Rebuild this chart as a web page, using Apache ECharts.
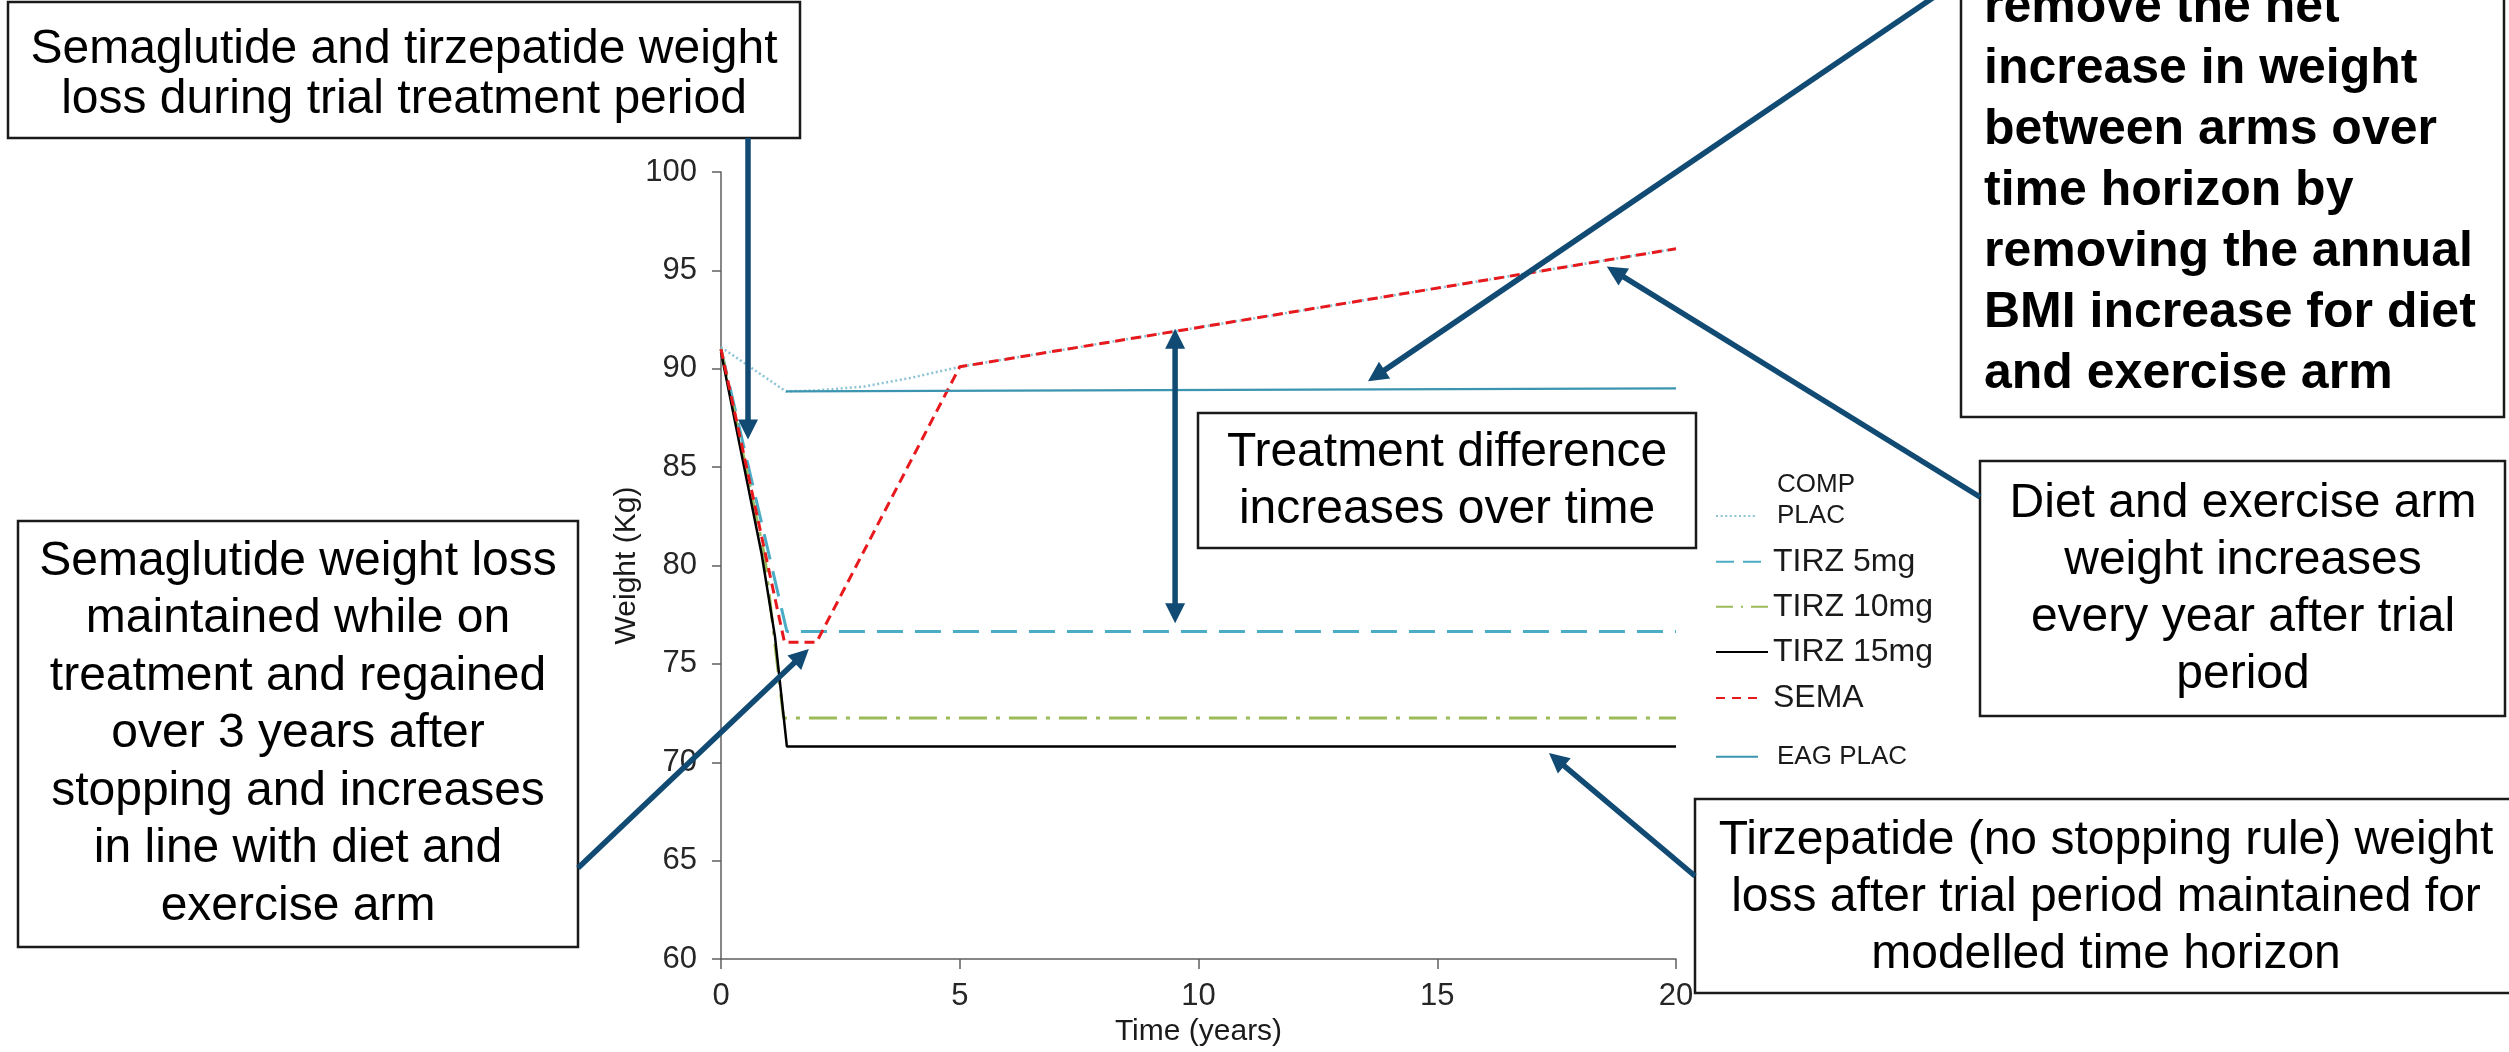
<!DOCTYPE html>
<html><head><meta charset="utf-8">
<script src="https://cdn.jsdelivr.net/npm/echarts@6/dist/echarts.min.js"></script>
<style>html,body{margin:0;padding:0;background:#fff}#c{width:2509px;height:1052px}</style>
</head><body><div id="c"></div>
<script>
// ---- data ----
const seriesNames = ['COMP PLAC', 'TIRZ 5mg', 'TIRZ 10mg', 'TIRZ 15mg', 'SEMA', 'EAG PLAC'];
const compPlacYears  = [0, 1.36, 2, 3, 4, 5, 20];
const compPlacWeight = [91.1, 88.85, 88.9, 89.1, 89.55, 90.1, 96.1];
const tirz5Years  = [0, 1.38, 20];
const tirz5Weight = [91.0, 76.65, 76.65];
const tirz10Years  = [0, 0.92, 1.31, 20];
const tirz10Weight = [91.0, 80.4, 72.25, 72.25];
const tirz15Years  = [0, 0.85, 1.13, 1.38, 20];
const tirz15Weight = [90.85, 80.6, 76.4, 70.8, 70.8];
const semaYears  = [0, 1.33, 2, 5, 20];
const semaWeight = [91.0, 76.1, 76.1, 90.1, 96.1];
const eagPlacYears  = [1.36, 20];
const eagPlacWeight = [88.85, 89.0];
const xTickValues = [0, 5, 10, 15, 20];
const yTickValues = [60, 65, 70, 75, 80, 85, 90, 95, 100];

const FONT = "'Liberation Sans', Arial, Helvetica, sans-serif";
const ARROW = '#114a72';
const pairs = (xs, ys) => xs.map((x, i) => [x, ys[i]]);

const chart = echarts.init(document.getElementById('c'), null, {renderer: 'canvas'});

const styles = [
  {color: '#8cc4d6', width: 2.5, type: [2, 2.6]},
  {color: '#4bacc6', width: 3, type: [26, 12]},
  {color: '#9bbb59', width: 3, type: [28, 9, 4, 9]},
  {color: '#000000', width: 2.5, type: 'solid'},
  {color: '#e8191c', width: 3, type: [10, 6]},
  {color: '#3b95b0', width: 2.2, type: 'solid'}
];
const dataSets = [
  pairs(compPlacYears, compPlacWeight),
  pairs(tirz5Years, tirz5Weight),
  pairs(tirz10Years, tirz10Weight),
  pairs(tirz15Years, tirz15Weight),
  pairs(semaYears, semaWeight),
  pairs(eagPlacYears, eagPlacWeight)
];

const series = seriesNames.map((n, i) => ({
  name: n, type: 'line', data: dataSets[i], symbol: 'none', silent: true, animation: false,
  lineStyle: {color: styles[i].color, width: styles[i].width, type: styles[i].type},
  itemStyle: {color: styles[i].color}, z: 2 + i
}));

// one legend per entry so each sits exactly as in the reference
// (top = top of the item's bounding box, which is the text block)
const legendSpec = [
  {name: 'COMP PLAC', top: 469.5, w: 40, fs: 26, lh: 31, pad: [0, 0, 0, 16], fmt: 'COMP\nPLAC\n ', dash: [2, 2.6]},
  {name: 'TIRZ 5mg', top: 543.7, w: 45, fs: 32, lh: 36, pad: [0, 0, 0, 7], dash: [18, 9]},
  {name: 'TIRZ 10mg', top: 588.7, w: 52, fs: 32, lh: 36, pad: [0, 0, 0, 0], dash: [17, 8, 2, 8]},
  {name: 'TIRZ 15mg', top: 634, w: 52, fs: 32, lh: 36, pad: [0, 0, 0, 0], dash: 'solid'},
  {name: 'SEMA', top: 680, w: 43, fs: 32, lh: 36, pad: [0, 0, 0, 9], dash: [9, 7]},
  {name: 'EAG PLAC', top: 741.2, w: 42, fs: 26, lh: 31, pad: [0, 0, 0, 14], dash: 'solid'}
];
const legends = legendSpec.map(l => ({
  data: [l.name], left: 1715, top: l.top, orient: 'vertical', padding: 0,
  itemWidth: l.w, itemHeight: 10, selectedMode: false,
  itemStyle: {opacity: 0},
  lineStyle: {type: l.dash},
  formatter: l.fmt ? () => l.fmt : '{name}',
  textStyle: {fontSize: l.fs, fontFamily: FONT, color: '#1a1a1a', lineHeight: l.lh, padding: l.pad}
}));

const axisCol = '#5f5f5f';
const option = {
  backgroundColor: '#ffffff',
  animation: false,
  grid: {left: 721, right: 833, top: 172, bottom: 86, containLabel: false},
  legend: legends,
  xAxis: {
    type: 'value', min: xTickValues[0], max: xTickValues[xTickValues.length - 1],
    interval: xTickValues[1] - xTickValues[0],
    name: 'Time (years)', nameLocation: 'middle', nameGap: 50,
    nameTextStyle: {fontSize: 30, fontFamily: FONT, color: '#1a1a1a'},
    axisLine: {show: true, lineStyle: {color: axisCol, width: 1.5}},
    axisTick: {show: true, length: 10, lineStyle: {color: axisCol, width: 1.5}},
    axisLabel: {fontSize: 31, fontFamily: FONT, color: '#262626', margin: 22},
    splitLine: {show: false}
  },
  yAxis: {
    type: 'value', min: yTickValues[0], max: yTickValues[yTickValues.length - 1],
    interval: yTickValues[1] - yTickValues[0],
    name: 'Weight (Kg)', nameLocation: 'middle', nameGap: 64, nameRotate: 90,
    nameTextStyle: {fontSize: 30, fontFamily: FONT, color: '#1a1a1a'},
    axisLine: {show: true, lineStyle: {color: axisCol, width: 1.5}},
    axisTick: {show: true, length: 9, lineStyle: {color: axisCol, width: 1.5}},
    axisLabel: {fontSize: 31, fontFamily: FONT, color: '#262626', margin: 24},
    splitLine: {show: false}
  },
  series: series
};
chart.setOption(option);

// ---- annotations ----
function arrowEls(p1, p2, both) {
  const dx = p2[0] - p1[0], dy = p2[1] - p1[1];
  const len = Math.hypot(dx, dy), ux = dx / len, uy = dy / len, nx = -uy, ny = ux;
  const L = 20, W = 10;
  const head = (tip, sx, sy) => ({
    type: 'polygon', z: 200, silent: true,
    shape: {points: [[tip[0], tip[1]],
      [tip[0] - sx * L + nx * W, tip[1] - sy * L + ny * W],
      [tip[0] - sx * L - nx * W, tip[1] - sy * L - ny * W]]},
    style: {fill: ARROW}
  });
  const s = both ? [p1[0] + ux * L * 0.8, p1[1] + uy * L * 0.8] : p1;
  const e = [p2[0] - ux * L * 0.8, p2[1] - uy * L * 0.8];
  const els = [{type: 'line', z: 199, silent: true,
    shape: {x1: s[0], y1: s[1], x2: e[0], y2: e[1]},
    style: {stroke: ARROW, lineWidth: 5.5}}];
  els.push(head(p2, ux, uy));
  if (both) els.push(head(p1, -ux, -uy));
  return els;
}
const px = v => chart.convertToPixel({gridIndex: 0}, v);

const boxes = [
  {r: [8, 2, 792, 136], text: 'Semaglutide and tirzepatide weight\nloss during trial treatment period', cx: 404, cy: 75, lh: 50},
  {r: [1198, 413, 498, 135], text: 'Treatment difference\nincreases over time', cx: 1447, cy: 481.7, lh: 57},
  {r: [18, 521, 560, 426], text: 'Semaglutide weight loss\nmaintained while on\ntreatment and regained\nover 3 years after\nstopping and increases\nin line with diet and\nexercise arm', cx: 298, cy: 734.2, lh: 57.5},
  {r: [1980, 461, 525, 255], text: 'Diet and exercise arm\nweight increases\nevery year after trial\nperiod', cx: 2243, cy: 589.6, lh: 57},
  {r: [1695, 799, 840, 194], text: 'Tirzepatide (no stopping rule) weight\nloss after trial period maintained for\nmodelled time horizon', cx: 2106, cy: 898, lh: 57}
];
const graphics = [];
boxes.forEach(b => {
  graphics.push({type: 'rect', z: 150, silent: true,
    shape: {x: b.r[0], y: b.r[1], width: b.r[2], height: b.r[3]},
    style: {fill: '#ffffff', stroke: '#1a1a1a', lineWidth: 2.5}});
  graphics.push({type: 'text', z: 151, silent: true,
    style: {text: b.text, x: b.cx, y: b.cy, align: 'center', verticalAlign: 'middle',
      fontSize: 48, fontFamily: FONT, fill: '#000000', lineHeight: b.lh}});
});
// bold box at top right (top edge runs off the picture)
graphics.push({type: 'rect', z: 150, silent: true,
  shape: {x: 1961, y: -60, width: 543, height: 477},
  style: {fill: '#ffffff', stroke: '#1a1a1a', lineWidth: 2.5}});
graphics.push({type: 'text', z: 151, silent: true,
  style: {text: 'remove the net\nincrease in weight\nbetween arms over\ntime horizon by\nremoving the annual\nBMI increase for diet\nand exercise arm',
    x: 1984, y: -22.5, align: 'left', verticalAlign: 'top', fontSize: 50, fontWeight: 'bold',
    fontFamily: FONT, fill: '#000000', lineHeight: 61}});

// arrows: tips in data space, tails at the call-out boxes
graphics.push(...arrowEls([748, 138], px([0.565, 86.4]), false));
graphics.push(...arrowEls([1937, -5], px([13.55, 89.36]), false));
graphics.push(...arrowEls([1980, 497], px([18.55, 95.2]), false));
graphics.push(...arrowEls([1695, 876], px([17.34, 70.47]), false));
graphics.push(...arrowEls([578, 868], px([1.84, 75.76]), false));
graphics.push(...arrowEls(px([9.51, 92.03]), px([9.51, 77.07]), true));

chart.setOption({graphic: {elements: graphics}});
</script>
</body></html>
